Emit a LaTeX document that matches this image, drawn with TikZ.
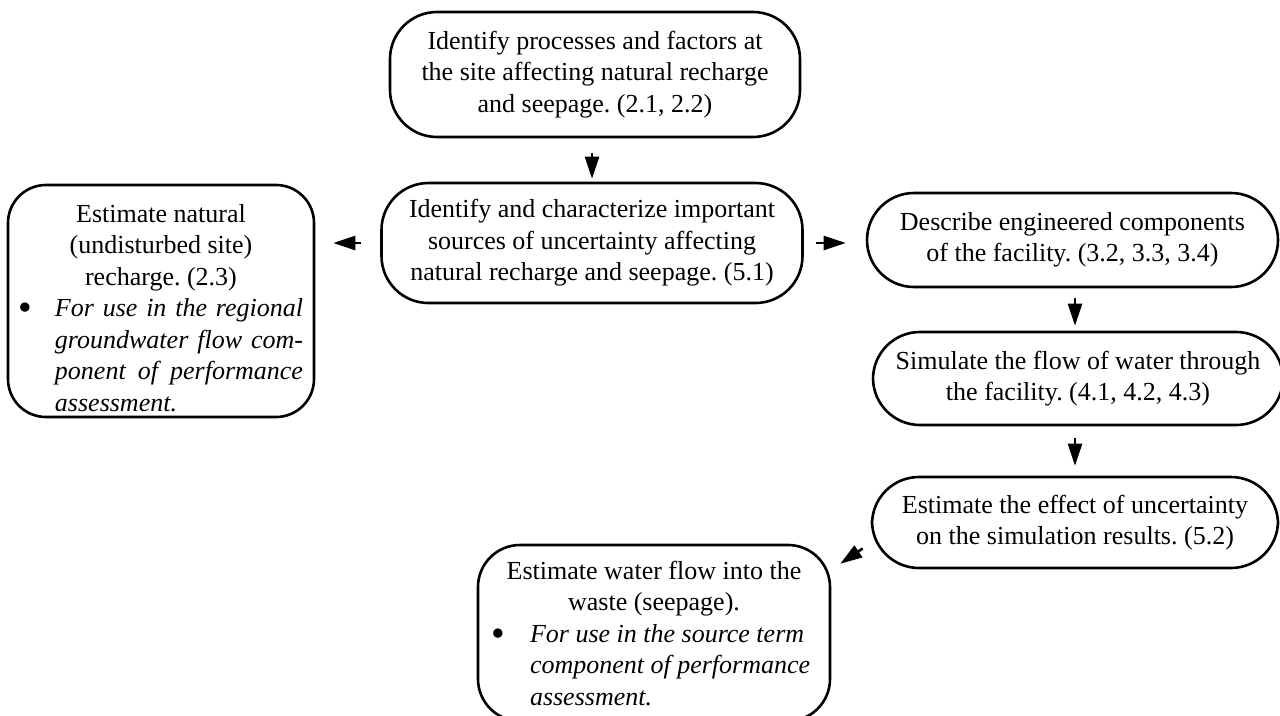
\documentclass[tikz,border=0pt]{standalone}
\usepackage{fontspec}
\setmainfont{Liberation Serif}
\usetikzlibrary{arrows.meta}
\frenchspacing
\newcommand{\bigbul}{\raisebox{-4pt}{\upshape\scalebox{1.5}{\textbullet}}}
\begin{document}
\begin{tikzpicture}[x=1pt,y=-1pt,
  boxbase/.style={draw,line width=2.6pt,rounded corners=47pt,inner sep=0pt,font=\fontsize{26pt}{31.5pt}\selectfont\frenchspacing},
  box/.style={boxbase,align=center},
  arr/.style={line width=2.5pt,-{Triangle[length=22pt,width=14pt]}}]
\useasboundingbox (0,0) rectangle (1280,715);

\node[box,minimum width=410pt,minimum height=125pt] (top) at (595,74.5)
  {Identify processes and factors at\\the site affecting natural recharge\\and seepage. (2.1, 2.2)};
\node[box,minimum width=421pt,minimum height=120pt] (mid) at (592,243)
  {Identify and characterize important\\sources of uncertainty affecting\\natural recharge and seepage. (5.1)};
\node[box,minimum width=411pt,minimum height=94pt] (r1) at (1072.5,240)
  {Describe engineered components\\of the facility. (3.2, 3.3, 3.4)};
\node[box,minimum width=410pt,minimum height=93pt] (r2) at (1078,378.5)
  {Simulate the flow of water through\\the facility. (4.1, 4.2, 4.3)};
\node[box,minimum width=406pt,minimum height=91pt] (r3) at (1075,522.5)
  {Estimate the effect of uncertainty\\on the simulation results. (5.2)};

\node[boxbase,rounded corners=38pt,inner xsep=8pt,inner ysep=0pt] (left) at (161,301)
  {\begin{minipage}[c][232pt][t]{290pt}
   \vspace*{19pt}
   {\centering Estimate natural\\(undisturbed site)\\recharge. (2.3)\par}
   \itshape
   \noindent\makebox[39pt][l]{\hspace*{2pt}\bigbul}\makebox[248pt][s]{For use in the regional}\par
   \noindent\hspace*{39pt}\makebox[248pt][s]{groundwater flow com-}\par
   \noindent\hspace*{39pt}\makebox[248pt][s]{ponent of performance}\par
   \noindent\hspace*{39pt}assessment.\par
   \end{minipage}};

\node[boxbase,rounded corners=42pt,inner xsep=10pt,inner ysep=0pt] (bot) at (654,633)
  {\begin{minipage}[c][176pt][t]{332pt}
   \vspace*{16pt}
   {\centering Estimate water flow into the\\waste (seepage).\par}
   \itshape
   \noindent\makebox[42pt][l]{\hspace*{3pt}\bigbul}For use in the source term\par
   \noindent\hspace*{42pt}component of performance\par
   \noindent\hspace*{42pt}assessment.\par
   \end{minipage}};

\draw[arr,shorten <=15pt,shorten >=3pt] (top.south -| mid.north) -- (mid.north);
\draw[arr,shorten <=19pt,shorten >=18pt] (mid.west) -- (left.east |- mid.west);
\draw[arr,shorten <=12pt,shorten >=20pt] (mid.east) -- (r1.west |- mid.east);
\draw[arr,shorten <=10pt,shorten >=5pt] (r1.south -| 1075,0) -- (r2.north -| 1075,0);
\draw[arr,shorten <=12pt,shorten >=10pt] (r2.south -| 1075,0) -- (r3.north -| 1075,0);
\draw[arr] ([shift={(-8,26)}]r3.west) -- ([shift={(9,20)}]bot.north east);
\end{tikzpicture}
\end{document}
